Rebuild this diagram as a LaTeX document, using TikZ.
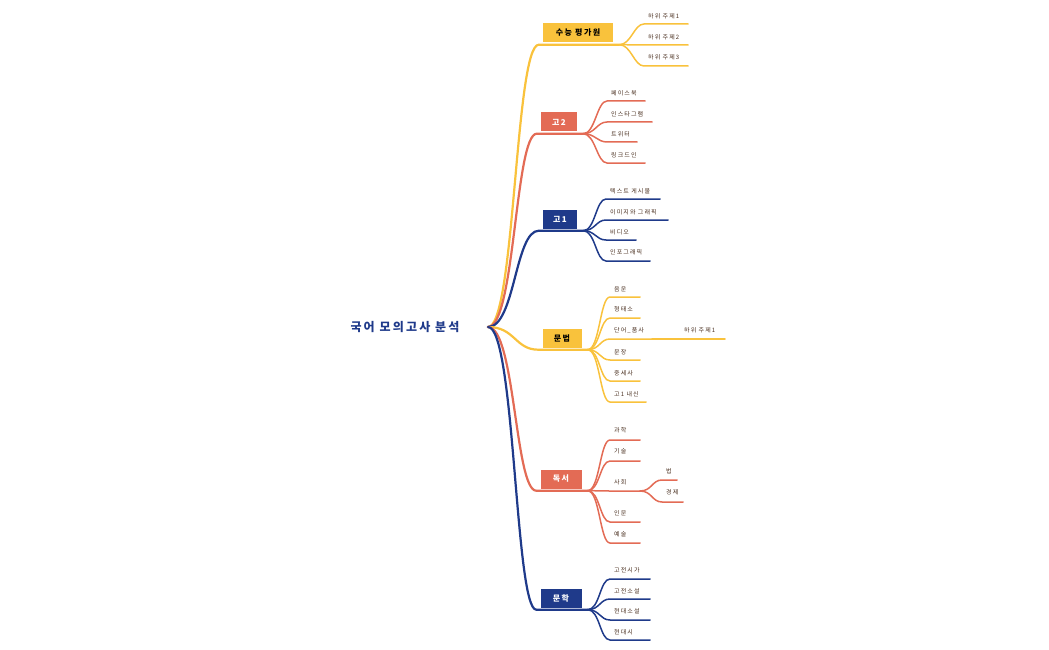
\documentclass[tikz,border=0pt]{standalone}
\usepackage{fontspec}
\setmainfont{Noto Sans CJK KR}[LetterSpace=18]
\usetikzlibrary{calc}
\definecolor{cy}{HTML}{F9C23C}
\definecolor{cr}{HTML}{E36B55}
\definecolor{cn}{HTML}{1F3A8A}
\definecolor{tx}{HTML}{4A3020}
\tikzset{x=1pt,y=-1pt,
 mainbox/.style={fill=#1,minimum height=19pt,inner sep=0pt,font=\fontsize{8}{8}\selectfont\bfseries},
 leaf/.style={anchor=west,inner sep=0pt,text=tx,font=\fontsize{6}{6}\selectfont},
 mline/.style={draw=#1,line width=2.2pt,line cap=round},
 cline/.style={draw=#1,line width=1.5pt,line cap=round}}
\newcommand{\kid}[8]{% color fork name x ty ly xend text
 \node[leaf] (#3) at (#4,#5) {#8};
 \coordinate (#3e) at (#7,#6);
 \draw[cline=#1] (#2) .. controls ($(#2)+(12,0)$) and ($(#4-14,#6)$) .. (#4-4,#6) -- (#3e);}
\begin{document}
\begin{tikzpicture}
\useasboundingbox (0,0) rectangle (1049,650);
\node[font=\fontsize{12}{12}\selectfont\bfseries,text=cn] (root) at (405,327) {국어 모의고사 분석};
\coordinate (r) at (488,327);
% main nodes
\node[mainbox=cy,minimum width=70pt,text=black] (a) at (578,33) {수능 평가원};
\node[mainbox=cr,minimum width=36pt,text=white] (b) at (559,122) {고2};
\node[mainbox=cn,minimum width=34pt,text=white] (c) at (560,219) {고1};
\node[mainbox=cy,minimum width=39pt,text=black] (d) at (562,338) {문법};
\node[mainbox=cr,minimum width=41pt,text=white] (e) at (561,479) {독서};
\node[mainbox=cn,minimum width=41pt,text=white] (f) at (561,598) {문학};
\foreach \n/\c in {a/cy,b/cr,c/cn,d/cy,e/cr,f/cn}{
 \coordinate (\n l) at ($(\n.south west)+(-4,2)$);
 \coordinate (\n r) at ($(\n.south east)+(6,2)$);
 \draw[mline=\c] (r) .. controls (515,327) and (515,0|-\n l) .. ([xshift=0pt]\n l) -- (\n r);
}
% 수능 평가원
\kid{cy}{ar}{a1}{648}{16}{24}{688}{하위 주제1}
\kid{cy}{ar}{a2}{648}{37}{45}{688}{하위 주제2}
\kid{cy}{ar}{a3}{648}{57}{66}{688}{하위 주제3}
% 고2
\kid{cr}{br}{b1}{611}{93}{101}{645}{페이스북}
\kid{cr}{br}{b2}{611}{114}{122}{652}{인스타그램}
\kid{cr}{br}{b3}{611}{134}{142}{637}{트위터}
\kid{cr}{br}{b4}{611}{155}{163}{645}{링크드인}
% 고1
\kid{cn}{cr}{c1}{610}{191}{199}{660}{텍스트 게시물}
\kid{cn}{cr}{c2}{610}{212}{220}{668}{이미지와 그래픽}
\kid{cn}{cr}{c3}{610}{232}{240}{636}{비디오}
\kid{cn}{cr}{c4}{610}{252}{261}{650}{인포그래픽}
% 문법
\kid{cy}{dr}{d1}{614}{289}{297}{640}{음운}
\kid{cy}{dr}{d2}{614}{309}{318}{640}{형태소}
\kid{cy}{dr}{d3}{614}{330}{339}{652}{단어\_품사}
\kid{cy}{dr}{d4}{614}{352}{360}{640}{문장}
\kid{cy}{dr}{d5}{614}{373}{381}{640}{중세사}
\kid{cy}{dr}{d6}{614}{394}{402}{646}{고1 내신}
\node[leaf] (d31) at (684,330) {하위 주제1};
\coordinate (d31e) at (725,339);
\draw[cline=cy] (d3e) -- (d31e);
% 독서
\kid{cr}{er}{e1}{614}{430}{440}{640}{과학}
\kid{cr}{er}{e2}{614}{451}{461}{640}{기술}
\kid{cr}{er}{e3}{614}{482}{491}{640}{사회}
\kid{cr}{er}{e4}{614}{513}{522}{640}{인문}
\kid{cr}{er}{e5}{614}{534}{543}{640}{예술}
\kid{cr}{e3e}{e31}{666}{471}{480}{677}{법}
\kid{cr}{e3e}{e32}{666}{492}{502}{683}{경제}
% 문학
\kid{cn}{fr}{f1}{614}{570}{579}{650}{고전시가}
\kid{cn}{fr}{f2}{614}{591}{599}{650}{고전소설}
\kid{cn}{fr}{f3}{614}{611}{620}{650}{현대소설}
\kid{cn}{fr}{f4}{614}{632}{640}{650}{현대시}
\end{tikzpicture}
\end{document}
